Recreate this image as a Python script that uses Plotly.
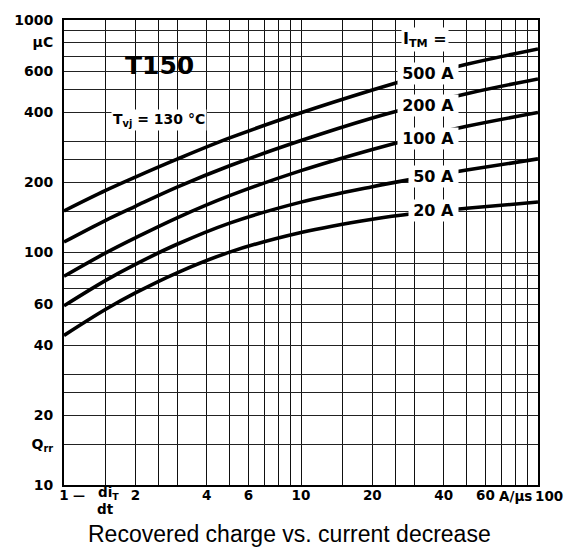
import plotly.graph_objects as go

# ---- data ----
di_dt = [1, 1.5, 2, 3, 5, 10, 20, 30, 50, 100]          # A/us
q_500 = [151, 185, 211, 252, 311, 399, 500, 565, 645, 751]  # uC
q_200 = [111, 137.6, 158, 191, 236, 303, 379, 424, 482, 558]
q_100 = [79, 99.6, 115.6, 141, 175.6, 225, 277.5, 309.6, 349, 400]
q_50 = [59, 75.9, 88.9, 108.5, 133.8, 164.7, 191.9, 207.3, 226.2, 252.7]
q_20 = [44, 57, 67, 81.8, 100.4, 121.9, 139.1, 147.2, 154.9, 164.8]

series_names = ["500 A", "200 A", "100 A", "50 A", "20 A"]
series_vals = [q_500, q_200, q_100, q_50, q_20]

x_grid = [1, 1.5, 2, 2.5, 3, 4, 5, 6, 7, 8, 9, 10, 15, 20, 25, 30, 40, 50, 60, 70, 80, 90, 100]
x_labels = {1: "1", 2: "2", 4: "4", 6: "6", 10: "10", 20: "20", 40: "40", 60: "60"}
y_grid = [10, 15, 20, 25, 30, 40, 50, 60, 70, 80, 90, 100, 150, 200, 250, 300, 400, 500, 600, 700, 800, 900, 1000]
y_labels = {10: "10", 15: "Q<sub>rr</sub>", 20: "20", 40: "40", 60: "60", 100: "100",
            200: "200", 400: "400", 600: "600", 800: "μC", 1000: "1000"}

W, H = 571, 551
L, R, T, B = 64, 33, 13, 66
PW, PH = W - L - R, H - T - B


def px(xp):
    return (xp - L) / PW


def py(yp):
    return (H - B - yp) / PH


fig = go.Figure()
for name, vals in zip(series_names, series_vals):
    fig.add_trace(go.Scatter(x=di_dt, y=vals, mode="lines", name=name,
                             line=dict(color="black", width=3.6, shape="spline", smoothing=1),
                             showlegend=False, hoverinfo="skip"))

bold = "DejaVu Sans"

fig.update_layout(
    width=W, height=H,
    margin=dict(l=L, r=R, t=T, b=B, pad=0),
    paper_bgcolor="white", plot_bgcolor="white",
    xaxis=dict(type="log", range=[0, 2], tickvals=x_grid,
               ticktext=[x_labels.get(v, "") for v in x_grid],
               showgrid=True, gridcolor="#111", gridwidth=1.3,
               showline=True, linecolor="black", linewidth=2, mirror=True,
               ticks="", ticklabelstandoff=-3, zeroline=False,
               tickfont=dict(family=bold, size=13.5, color="black", weight="bold")),
    yaxis=dict(type="log", range=[1, 3], tickvals=y_grid,
               ticktext=[y_labels.get(v, "") for v in y_grid],
               showgrid=True, gridcolor="#222", gridwidth=1,
               showline=True, linecolor="black", linewidth=2, mirror=True,
               ticks="", ticklabelstandoff=6, zeroline=False,
               tickfont=dict(family=bold, size=14, color="black", weight="bold")),
)

# white panel behind the type label
fig.add_shape(type="rect", xref="paper", yref="paper",
              x0=px(80), x1=px(245), y0=py(88), y1=py(23),
              fillcolor="white", line=dict(width=0), layer="between")

ann = []
ann.append(dict(text="T150", x=px(159), y=py(59), font=dict(family=bold, size=25, weight="bold")))
ann.append(dict(text="T<sub>vj</sub> = 130 °C", x=px(159), y=py(114),
                font=dict(family=bold, size=14, weight="bold"), bgcolor="white", borderpad=1))
ann.append(dict(text="I<sub>TM</sub> =", x=px(425), y=py(33),
                font=dict(family=bold, size=16, weight="bold"), bgcolor="white", borderpad=1))

label_y = [67, 100, 133, 172, 206]
for name, ly in zip(series_names, label_y):
    ann.append(dict(text="\u2009" + name + "\u2009", x=px(459), y=py(ly), xanchor="right",
                    font=dict(family=bold, size=16, weight="bold"), bgcolor="white", borderpad=1))

# x-axis extras
ann.append(dict(text="—", x=px(79), y=py(496), font=dict(family=bold, size=12, weight="bold")))
ann.append(dict(text="di<sub>T</sub>", x=px(108), y=py(493), font=dict(family=bold, size=13.5, weight="bold")))
ann.append(dict(text="dt", x=px(105), y=py(509), font=dict(family=bold, size=13.5, weight="bold")))
ann.append(dict(text="A/μs", x=px(497), y=py(496), xanchor="left", font=dict(family=bold, size=13.5, weight="bold")))
ann.append(dict(text="100", x=px(549), y=py(496), font=dict(family=bold, size=13.5, weight="bold")))

# caption
ann.append(dict(text="Recovered charge vs. current decrease", x=px(289), y=py(535),
                font=dict(family="Liberation Sans", size=23)))

for a in ann:
    a.setdefault("xref", "paper")
    a.setdefault("yref", "paper")
    a.setdefault("xanchor", "center")
    a.setdefault("yanchor", "middle")
    a.setdefault("showarrow", False)
    a["font"].setdefault("color", "black")
    fig.add_annotation(**a)

fig.write_html("out.html", config={"displayModeBar": False},
               post_script="document.body.style.margin='0px';document.body.style.padding='0px';")
